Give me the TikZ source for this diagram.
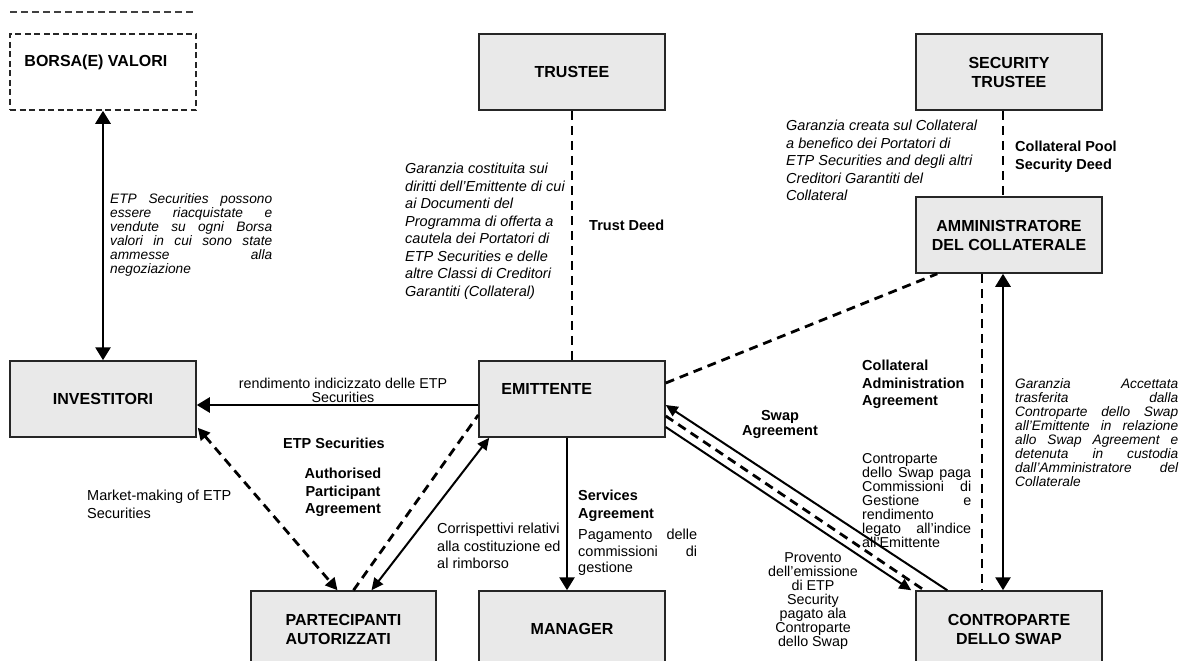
\documentclass[tikz,border=0pt]{standalone}
\usepackage{fontspec}
\setmainfont{Liberation Sans}
\usepackage{xcolor}
\usetikzlibrary{calc}
\usetikzlibrary{arrows.meta}
\definecolor{boxgray}{RGB}{233,233,233}
\hyphenpenalty=10000
\tolerance=9999
\tikzset{
  every node/.style = {font = \fontsize{14.5}{17.5}\selectfont, inner sep = 0pt}
}
\tikzset{
    >={Triangle[length=13pt,width=15pt]}
}
\tikzset{
  box/.style = {draw=black!85, line width=1.5pt, fill=boxgray,
    minimum width=186pt, minimum height=76pt, align=center,
    font=\fontsize{16}{19}\selectfont\bfseries},
  boxtext/.style = {font=\fontsize{16}{19}\selectfont\bfseries},
  boldtext/.style = {font=\fontsize{14.5}{17.5}\selectfont\bfseries},
  italictext/.style = {font=\fontsize{14.5}{17.5}\selectfont\itshape},
  italictight/.style = {font=\fontsize{13.7}{14}\selectfont\itshape},
  tighttext/.style = {font=\fontsize{14.3}{14}\selectfont},
  dashline/.style = {line width=2.8pt, dash pattern=on 9pt off 6pt},
  thinline/.style = {line width=2pt, >={Triangle[length=12pt,width=11pt]}}
}

\begin{document}
\begin{tikzpicture}[x=1pt, y=-1pt]
\useasboundingbox (0,0) rectangle (1192,661);

% Location of boxes
% BV       TR       ST
%                   AC
% IN       EM
%     PA   MA       CS

% The boxes
\draw[black!75, line width=1.3pt, dash pattern=on 7pt off 4pt] (10,12) -- (196,12);
\node[box, fill=none, dash pattern=on 6pt off 3.5pt] (BV) at (103,72) {};
\node[boxtext, anchor=west] (BVt) at ($(BV.west)+(15,-10)$) {BORSA(E) VALORI};
\node[box] (TR) at (572,72) {TRUSTEE};
\node[box] (ST) at (1009,72) {SECURITY\\TRUSTEE};
\node[box] (AC) at (1009,235) {AMMINISTRATORE\\DEL COLLATERALE};
\node[box] (IN) at (103,399) {INVESTITORI};
\node[box] (EM) at (572,399) {};
\node[boxtext, anchor=west] (EMt) at ($(EM.west)+(23,-10)$) {EMITTENTE};
\node[box, minimum width=185pt, align=left] (PA) at (343.5,629) {PARTECIPANTI\\AUTORIZZATI};
\node[box] (MA) at (572,629) {MANAGER};
\node[box] (CS) at (1009,629) {CONTROPARTE\\DELLO SWAP};

% Vertical links
\draw[<->, line width=2.8pt] (BV) -- (IN);
\draw[dashline] (TR) -- (EM);
\draw[dashline] ($(ST.south)+(-6,0)$) -- ($(AC.north)+(-6,0)$);
\draw[dashline] ($(AC.south)+(-27,0)$) -- ($(CS.north)+(-27,0)$);
\draw[<->, line width=2.8pt] ($(AC.south)+(-6,0)$) -- ($(CS.north)+(-6,0)$);
\draw[->, line width=2.8pt] ($(EM.south)+(-5,0)$) -- ($(MA.north)+(-5,0)$);
\draw[->, line width=2.5pt] ($(EM.west)+(0,6)$) -- ($(IN.east)+(0,6)$);

% Diagonal links
\draw[dashline, >={Triangle[length=12pt,width=12pt]}, <->] ($(IN.south east)+(1,-10)$) -- ($(PA.north)+(-6,0)$);
\draw[dashline] ($(PA.north)+(10,0)$) -- ($(EM.west)+(0,16)$);
\draw[thinline, <->] ($(PA.north)+(28,0)$) -- ($(EM.south west)+(11,0)$);
\draw[dashline] ($(EM.east)+(0,-16)$) -- ($(AC.south west)+(22,0)$);
\draw[thinline, ->] ($(CS.north west)+(32,0)$) -- ($(EM.east)+(0,6)$);
\draw[dashline] ($(EM.east)+(0,17)$) -- ($(CS.north west)+(9,0)$);
\draw[thinline, ->] ($(EM.east)+(0,28)$) -- ($(CS.north west)+(-4,0)$);

% Labels
\node[italictight, text width=162pt, align=justify, anchor=north west] (Lborsa) at (110,193)
  {ETP Securities possono\linebreak essere riacquistate e\linebreak vendute su ogni Borsa\linebreak valori in cui sono state\linebreak ammesse alla\linebreak negoziazione};
\node[italictext, align=left, anchor=north west] (Ltrust) at (405,163)
  {Garanzia costituita sui\\diritti dell'Emittente di cui\\ai Documenti del\\Programma di offerta a\\cautela dei Portatori di\\ETP Securities e delle\\altre Classi di Creditori\\Garantiti (Collateral)};
\node[boldtext, anchor=west] (Ldeed) at (589,225) {Trust Deed};
\node[italictext, align=left, anchor=north west] (Lsec) at (786,120)
  {Garanzia creata sul Collateral\\a benefico dei Portatori di\\ETP Securities and degli altri\\Creditori Garantiti del\\Collateral};
\node[boldtext, align=left, anchor=north west] (Lpool) at (1015,141) {Collateral Pool\\Security Deed};
\node[tighttext, align=center, anchor=north] (Lrend) at (343,378) {rendimento indicizzato delle ETP\\Securities};
\node[align=left, anchor=north west] (Lmkt) at (87,490) {Market-making of ETP\\Securities};
\node[boldtext, anchor=west] (Letp) at (283,443) {ETP Securities};
\node[boldtext, align=center, anchor=north] (Lap) at (343,468) {Authorised\\Participant\\Agreement};
\node[align=left, anchor=north west] (Lcorr) at (437,523) {Corrispettivi relativi\\alla costituzione ed\\al rimborso};
\node[boldtext, align=left, anchor=north west] (Lserv) at (578,490) {Services\\Agreement};
\node[font=\fontsize{14.5}{16.5}\selectfont, text width=119pt, align=justify, anchor=north west] (Lpag) at (578,529)
  {Pagamento delle\linebreak commissioni di\linebreak gestione};
\node[font=\fontsize{14.5}{15}\selectfont\bfseries, align=center, anchor=north] (Lswap) at (780,410) {Swap\\Agreement};
\node[boldtext, align=left, anchor=north west] (Lcaa) at (862,360) {Collateral\\Administration\\Agreement};
\node[tighttext, text width=109pt, align=justify, anchor=north west] (Lpay) at (862,453)
  {Controparte\linebreak dello Swap paga\linebreak Commissioni di\linebreak Gestione e\linebreak rendimento\linebreak legato all'indice\linebreak all'Emittente};
\node[tighttext, align=center, anchor=north] (Lprov) at (813,552)
  {Provento\\dell'emissione\\di ETP\\Security\\pagato ala\\Controparte\\dello Swap};
\node[italictight, text width=163pt, align=justify, anchor=north west] (Lcoll) at (1015,378)
  {Garanzia Accettata\linebreak trasferita dalla\linebreak Controparte dello Swap\linebreak all'Emittente in relazione\linebreak allo Swap Agreement e\linebreak detenuta in custodia\linebreak dall'Amministratore del\linebreak Collaterale};
\end{tikzpicture}
\end{document}
